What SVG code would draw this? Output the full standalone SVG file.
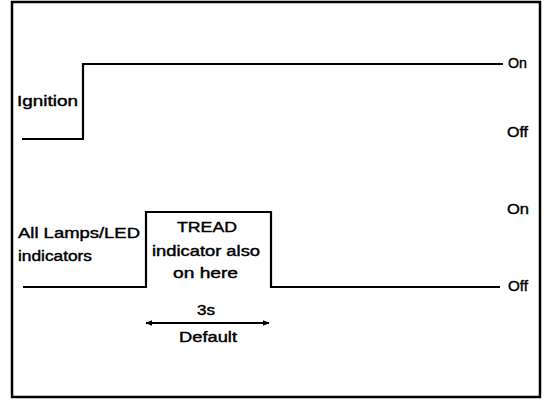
<svg xmlns="http://www.w3.org/2000/svg" width="560" height="410" viewBox="0 0 560 410">
<style>
.t{font-family:"Liberation Sans",Arial,sans-serif;font-size:14px;fill:#000;stroke:#000;stroke-width:0.4}
.ln{fill:none;stroke:#000;stroke-width:2.2}
</style>
<defs>
<marker id="ah" viewBox="0 0 10 10" refX="9" refY="5" markerWidth="7" markerHeight="7" orient="auto-start-reverse" markerUnits="userSpaceOnUse">
<path d="M0,1 L10,5 L0,9 z" fill="#000"/>
</marker>
</defs>
<rect width="560" height="410" fill="#fff"/>
<rect id="frame" x="12" y="2" width="528" height="395" fill="none" stroke="#000" stroke-width="2.5"/>
<g id="connectors">
<polyline class="ln" points="22,139 83,139 83,64 503,64"/>
<polyline class="ln" points="23,287 146,287 146,212 271,212 271,287 500,287"/>
<line class="ln" x1="146" y1="323" x2="269" y2="323" marker-start="url(#ah)" marker-end="url(#ah)"/>
</g>
<g id="ignition-labels">
<text class="t" x="17" y="106" textLength="61" lengthAdjust="spacingAndGlyphs">Ignition</text>
<text class="t" x="508" y="68" textLength="19" lengthAdjust="spacingAndGlyphs">On</text>
<text class="t" x="507" y="137" textLength="21" lengthAdjust="spacingAndGlyphs">Off</text>
</g>
<g id="lamps-labels">
<text class="t" x="18" y="238" textLength="122" lengthAdjust="spacingAndGlyphs">All Lamps/LED</text>
<text class="t" x="18" y="261" textLength="74" lengthAdjust="spacingAndGlyphs">indicators</text>
<text class="t" x="507" y="214" textLength="22" lengthAdjust="spacingAndGlyphs">On</text>
<text class="t" x="508" y="291" textLength="20" lengthAdjust="spacingAndGlyphs">Off</text>
</g>
<g id="tread-box">
<text class="t" x="177" y="232" textLength="60" lengthAdjust="spacingAndGlyphs">TREAD</text>
<text class="t" x="152" y="256" textLength="108" lengthAdjust="spacingAndGlyphs">indicator also</text>
<text class="t" x="173" y="278" textLength="65" lengthAdjust="spacingAndGlyphs">on here</text>
</g>
<g id="duration">
<text class="t" x="197" y="315" textLength="18" lengthAdjust="spacingAndGlyphs">3s</text>
<text class="t" x="179" y="342" textLength="58" lengthAdjust="spacingAndGlyphs">Default</text>
</g>
</svg>
